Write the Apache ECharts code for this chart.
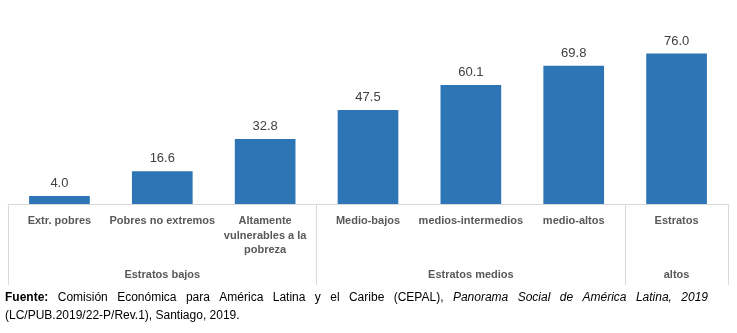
<!DOCTYPE html>
<html><head><meta charset="utf-8">
<script src="https://cdn.jsdelivr.net/npm/echarts@6/dist/echarts.min.js"></script>
<style>html,body{margin:0;padding:0;background:#fff}#c{width:737px;height:333px}</style>
</head><body><div id="c"></div>
<script>
const categories = ['Extr. pobres', 'Pobres no extremos', 'Altamente\nvulnerables a la\npobreza', 'Medio-bajos', 'medios-intermedios', 'medio-altos', 'Estratos'];
const values = [4.0, 16.6, 32.8, 47.5, 60.1, 69.8, 76.0];
const groupNames = ['Estratos bajos', 'Estratos medios', 'altos'];
const groupBounds = [0, 3, 6, 7];
const sourceLine1 = [['Fuente:', 'bold', 'normal'], ['Comisión'], ['Económica'], ['para'], ['América'], ['Latina'], ['y'], ['el'], ['Caribe'], ['(CEPAL),'], ['Panorama', 'normal', 'italic'], ['Social', 'normal', 'italic'], ['de', 'normal', 'italic'], ['América', 'normal', 'italic'], ['Latina,', 'normal', 'italic'], ['2019', 'normal', 'italic']];
const sourceLine2 = '(LC/PUB.2019/22-P/Rev.1), Santiago, 2019.';

const FF = 'Liberation Sans, Arial, sans-serif';
const groupCenters = groupNames.map((_, i) => (groupBounds[i] + groupBounds[i + 1]) / 2);

// justified source line
const cv = document.createElement('canvas').getContext('2d');
const fsz = 12;
const widths = sourceLine1.map(w => { cv.font = (w[2] || 'normal') + ' ' + (w[1] || 'normal') + ' ' + fsz + 'px ' + FF; return cv.measureText(w[0]).width; });
const x0 = 5, x1 = 708;
const gap = (x1 - x0 - widths.reduce((a, b) => a + b, 0)) / (sourceLine1.length - 1);
let xx = x0;
const srcEls = sourceLine1.map((w, i) => {
  const el = { type: 'text', x: xx, y: 298, style: { text: w[0], fontSize: fsz, fontFamily: FF, fontWeight: w[1] || 'normal', fontStyle: w[2] || 'normal', fill: '#000', verticalAlign: 'middle' } };
  xx += widths[i] + gap;
  return el;
});
srcEls.push({ type: 'text', x: x0, y: 316, style: { text: sourceLine2, fontSize: fsz, fontFamily: FF, fill: '#000', verticalAlign: 'middle' } });

const chart = echarts.init(document.getElementById('c'), null, { renderer: 'canvas' });
chart.setOption({
  animation: false,
  grid: { left: 8, right: 9, top: 6, bottom: 129, containLabel: false },
  xAxis: [
    {
      type: 'category', data: categories,
      axisLine: { lineStyle: { color: '#d9d9d9' } },
      axisTick: { show: false },
      axisLabel: { interval: 0, margin: 10, fontSize: 11, fontWeight: 'bold', fontFamily: FF, color: '#595959', lineHeight: 14.5 }
    },
    {
      type: 'value', min: 0, max: 7, position: 'bottom', offset: 0,
      axisLine: { show: false }, splitLine: { show: false },
      axisTick: { show: true, customValues: groupBounds, length: 81, lineStyle: { color: '#d9d9d9' } },
      axisLabel: { customValues: groupCenters, margin: 65, fontSize: 11, fontWeight: 'bold', fontFamily: FF, color: '#595959',
        formatter: v => { const i = groupCenters.indexOf(v); return i >= 0 ? groupNames[i] : ''; } }
    }
  ],
  yAxis: { type: 'value', min: 0, max: 100, show: false, splitLine: { show: false } },
  series: [{
    type: 'bar', data: values, xAxisIndex: 0, barWidth: '59%',
    itemStyle: { color: '#2e75b6' },
    label: { show: true, position: 'top', distance: 6, fontSize: 13, fontFamily: FF, color: '#404040', formatter: p => p.value.toFixed(1) }
  }],
  graphic: srcEls
});
</script></body></html>
